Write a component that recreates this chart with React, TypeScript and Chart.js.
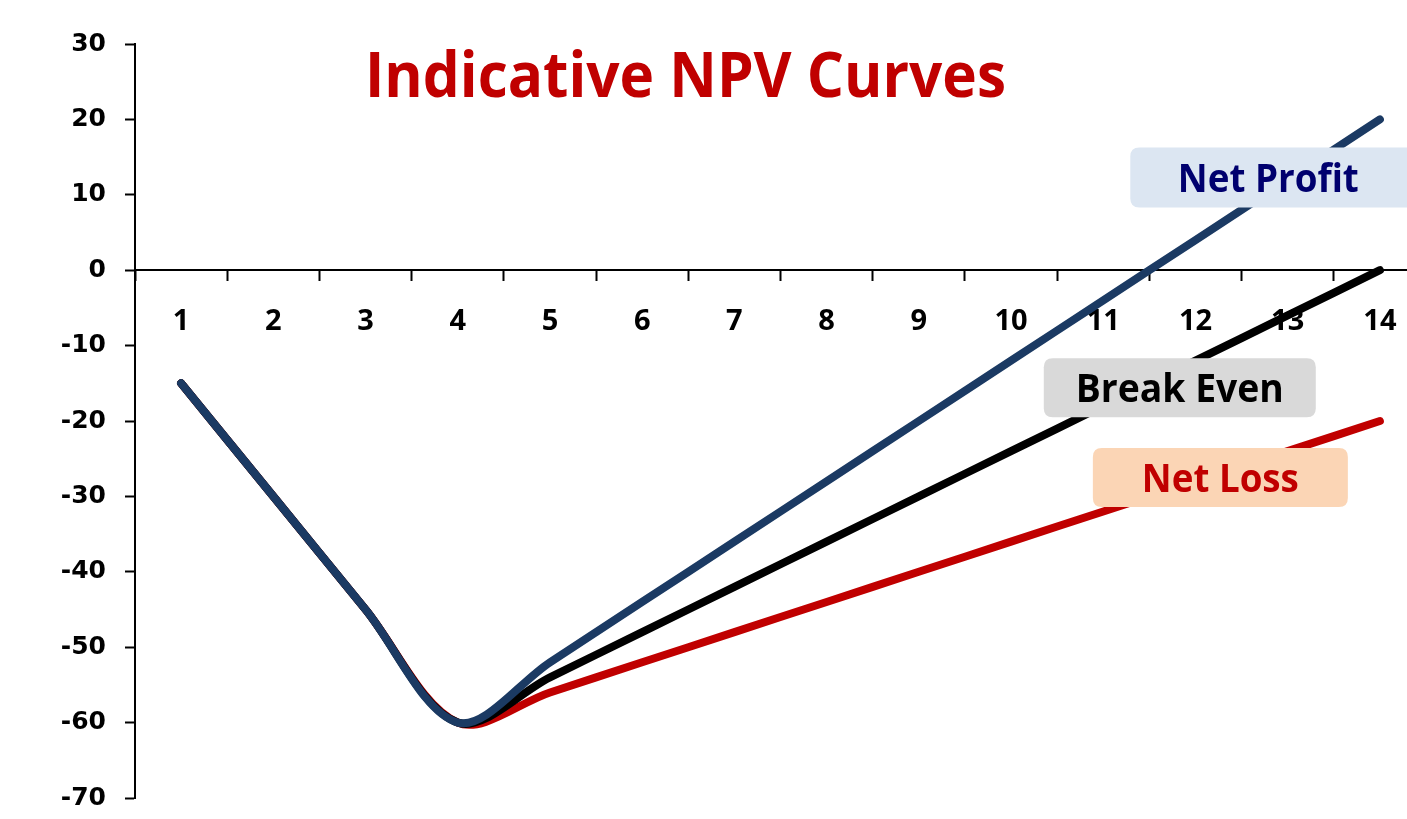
import React, { useEffect, useRef } from "react";
import { Chart, registerables } from "chart.js";

Chart.register(...registerables);

// ---- data ----
const periods: number[] = [1, 2, 3, 4, 5, 6, 7, 8, 9, 10, 11, 12, 13, 14];
const netProfit: number[] = [-15, -30, -45, -60, -52, -44, -36, -28, -20, -12, -4, 4, 12, 20];
const breakEven: number[] = [-15, -30, -45, -60, -54, -48, -42, -36, -30, -24, -18, -12, -6, 0];
const netLoss: number[] = [-15, -30, -45, -60, -56, -52, -48, -44, -40, -36, -32, -28, -24, -20];
const yTicks: number[] = [30, 20, 10, 0, -10, -20, -30, -40, -50, -60, -70];
const titleText = "Indicative NPV Curves";
const labelTexts: string[] = ["Net Profit", "Break Even", "Net Loss"];

const FONT = "'Open Sans', 'DejaVu Sans', sans-serif";
const TICK_FONT_Y = "'DejaVu Sans', sans-serif";

// label boxes anchored in data coordinates
const labelBoxes = [
  { text: labelTexts[0], x: 12.92, y: 12.3, w: 300, h: 60, textW: 181, bg: "#dce6f2", fg: "#00006e" },
  { text: labelTexts[1], x: 11.83, y: -15.6, w: 272, h: 59, textW: 208, bg: "#d9d9d9", fg: "#000000" },
  { text: labelTexts[2], x: 12.27, y: -27.5, w: 255, h: 59, textW: 157, bg: "#fbd5b5", fg: "#c00000" },
];

function roundRect(ctx: CanvasRenderingContext2D, x: number, y: number, w: number, h: number, r: number) {
  ctx.beginPath();
  ctx.moveTo(x + r, y);
  ctx.lineTo(x + w - r, y);
  ctx.quadraticCurveTo(x + w, y, x + w, y + r);
  ctx.lineTo(x + w, y + h - r);
  ctx.quadraticCurveTo(x + w, y + h, x + w - r, y + h);
  ctx.lineTo(x + r, y + h);
  ctx.quadraticCurveTo(x, y + h, x, y + h - r);
  ctx.lineTo(x, y + r);
  ctx.quadraticCurveTo(x, y, x + r, y);
  ctx.closePath();
}

function drawFitted(ctx: CanvasRenderingContext2D, text: string, cx: number, baseline: number, size: number, targetW: number, color: string) {
  ctx.save();
  ctx.font = `bold ${size}px ${FONT}`;
  const w = ctx.measureText(text).width;
  const sx = targetW / w;
  ctx.translate(cx, baseline);
  ctx.scale(sx, 1);
  ctx.fillStyle = color;
  ctx.textAlign = "center";
  ctx.textBaseline = "alphabetic";
  ctx.fillText(text, 0, 0);
  ctx.restore();
}

const overlayPlugin = {
  id: "overlay",
  afterDatasetsDraw(chart: any) {
    const ctx: CanvasRenderingContext2D = chart.ctx;
    const xs = chart.scales.x;
    const ys = chart.scales.y;
    labelBoxes.forEach((b) => {
      const cx = xs.getPixelForValue(b.x);
      const cy = ys.getPixelForValue(b.y);
      ctx.save();
      ctx.fillStyle = b.bg;
      roundRect(ctx, cx - b.w / 2, cy - b.h / 2, b.w, b.h, 9);
      ctx.fill();
      ctx.restore();
    });
  },
  afterDraw(chart: any) {
    const ctx: CanvasRenderingContext2D = chart.ctx;
    const xs = chart.scales.x;
    const ys = chart.scales.y;
    labelBoxes.forEach((b, i) => {
      const cx = xs.getPixelForValue(b.x);
      const cy = ys.getPixelForValue(b.y);
      const textCx = i === 0 ? cx - 12 : cx;
      drawFitted(ctx, b.text, textCx, cy + 14.5, 40, b.textW, b.fg);
    });
    drawFitted(ctx, titleText, 685.5, 97, 63, 641, "#c00000");
  },
};

export default function App() {
  const ref = useRef<HTMLCanvasElement | null>(null);

  useEffect(() => {
    document.body.style.margin = "0";
    document.body.style.overflow = "hidden";
    const canvas = ref.current!;
    const ds = (label: string, values: number[], color: string) => ({
      label,
      data: periods.map((p, i) => ({ x: p, y: values[i] })),
      borderColor: color,
      backgroundColor: color,
      borderWidth: 8,
      pointRadius: 0,
      tension: 0.33,
      borderCapStyle: "round" as const,
      borderJoinStyle: "round" as const,
      fill: false,
    });
    const chart = new Chart(canvas, {
      type: "line",
      data: {
        datasets: [
          ds("Net Profit", netProfit, "#1b3a63"),
          ds("Break Even", breakEven, "#000000"),
          ds("Net Loss", netLoss, "#c00000"),
        ],
      },
      options: {
        animation: false,
        responsive: false,
        devicePixelRatio: 1,
        layout: { padding: { left: 0, right: 7, top: 44, bottom: 22 } },
        plugins: { legend: { display: false }, tooltip: { enabled: false }, title: { display: false } },
        scales: {
          x: {
            type: "linear",
            min: 0.5,
            max: 14.5,
            position: { y: 0 } as any,
            afterBuildTicks: (scale: any) => {
              const t: any[] = [];
              periods.forEach((p) => {
                t.push({ value: p - 0.5 });
                t.push({ value: p });
              });
              t.push({ value: periods[periods.length - 1] + 0.5 });
              scale.ticks = t;
            },
            afterFit: (scale: any) => {
              scale.height = 0;
            },
            ticks: {
              autoSkip: false,
              maxRotation: 0,
              minRotation: 0,
              padding: 24,
              color: "#000",
              font: { family: FONT, size: 29, weight: "bold" },
              callback: (v: any) => (Number.isInteger(v) ? String(v) : ""),
            },
            grid: {
              drawOnChartArea: false,
              drawTicks: true,
              tickLength: 10,
              tickWidth: 2,
              tickColor: (c: any) => (c.tick && !Number.isInteger(c.tick.value) ? "#000" : "rgba(0,0,0,0)"),
            },
            border: { display: true, color: "#000", width: 2 },
          },
          y: {
            type: "linear",
            min: -70,
            max: 30,
            afterBuildTicks: (scale: any) => {
              scale.ticks = yTicks.map((v) => ({ value: v }));
            },
            afterFit: (scale: any) => {
              scale.width = 135;
            },
            ticks: {
              padding: 19,
              color: "#000",
              font: { family: TICK_FONT_Y, size: 25, weight: "bold" },
              callback: (v: any) => String(v),
            },
            grid: {
              drawOnChartArea: false,
              drawTicks: true,
              tickLength: 10,
              tickWidth: 2,
              tickColor: "#000",
            },
            border: { display: true, color: "#000", width: 2 },
          },
        },
      },
      plugins: [overlayPlugin],
    });
    return () => chart.destroy();
  }, []);

  return (
    <div style={{ width: 1407, height: 819, overflow: "hidden", position: "relative", background: "#fff" }}>
      <canvas ref={ref} width={1450} height={832} style={{ display: "block", width: 1450, height: 832 }} />
    </div>
  );
}
